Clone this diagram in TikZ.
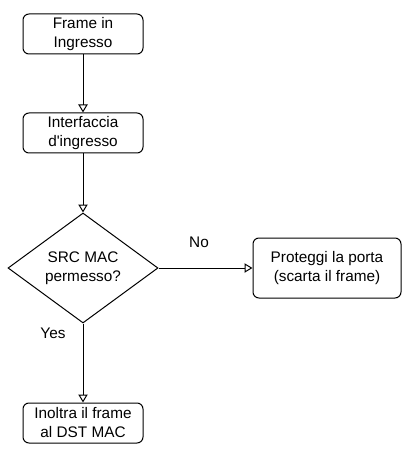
\documentclass[tikz,border=0pt]{standalone}
\usepackage{fontspec}
\setmainfont{Liberation Sans}
\usetikzlibrary{shapes.geometric,arrows.meta}

\tikzstyle{stepbox}=[draw,rounded corners=4.5pt,align=center,minimum width=90pt,minimum height=30pt,inner sep=0pt]
\tikzstyle{decision}=[draw,diamond,align=center,minimum width=112.5pt,minimum height=82.5pt,inner sep=0pt]
\tikzstyle{flow}=[draw,-{Triangle[open,length=6pt,width=7pt]}]
\tikzstyle{answer}=[font=\fontsize{11.5}{14}\selectfont]

\begin{document}
\begin{tikzpicture}[x=0.75pt,y=-0.75pt,line width=0.75pt,font=\fontsize{11.5}{14.25}\selectfont]
    \useasboundingbox (0,0) rectangle (410,470);
    % the steps of the flow chart
    \node[stepbox] (frame) at (83,34) {Frame in\\Ingresso};
    \node[stepbox] (iface) at (83,133) {Interfaccia\\d\textquotesingle ingresso};
    \node[decision] (check) at (83,268) {SRC MAC\\permesso?};
    \node[stepbox,minimum width=111pt,minimum height=45pt] (protect) at (327,268) {Proteggi la porta\\(scarta il frame)};
    \node[stepbox] (forward) at (83,423) {Inoltra il frame\\al DST MAC};
    % connectors between the steps
    \foreach \source/\dest in {frame/iface,iface/check,check/forward}
        \path[flow] (\source.south) -- (\dest.north);
    \path[flow] (check.east) -- (protect.west);
    % answers of the decision
    \node[answer] (no) at (199,242) {No};
    \node[answer] (yes) at (53,333) {Yes};
\end{tikzpicture}
\end{document}
